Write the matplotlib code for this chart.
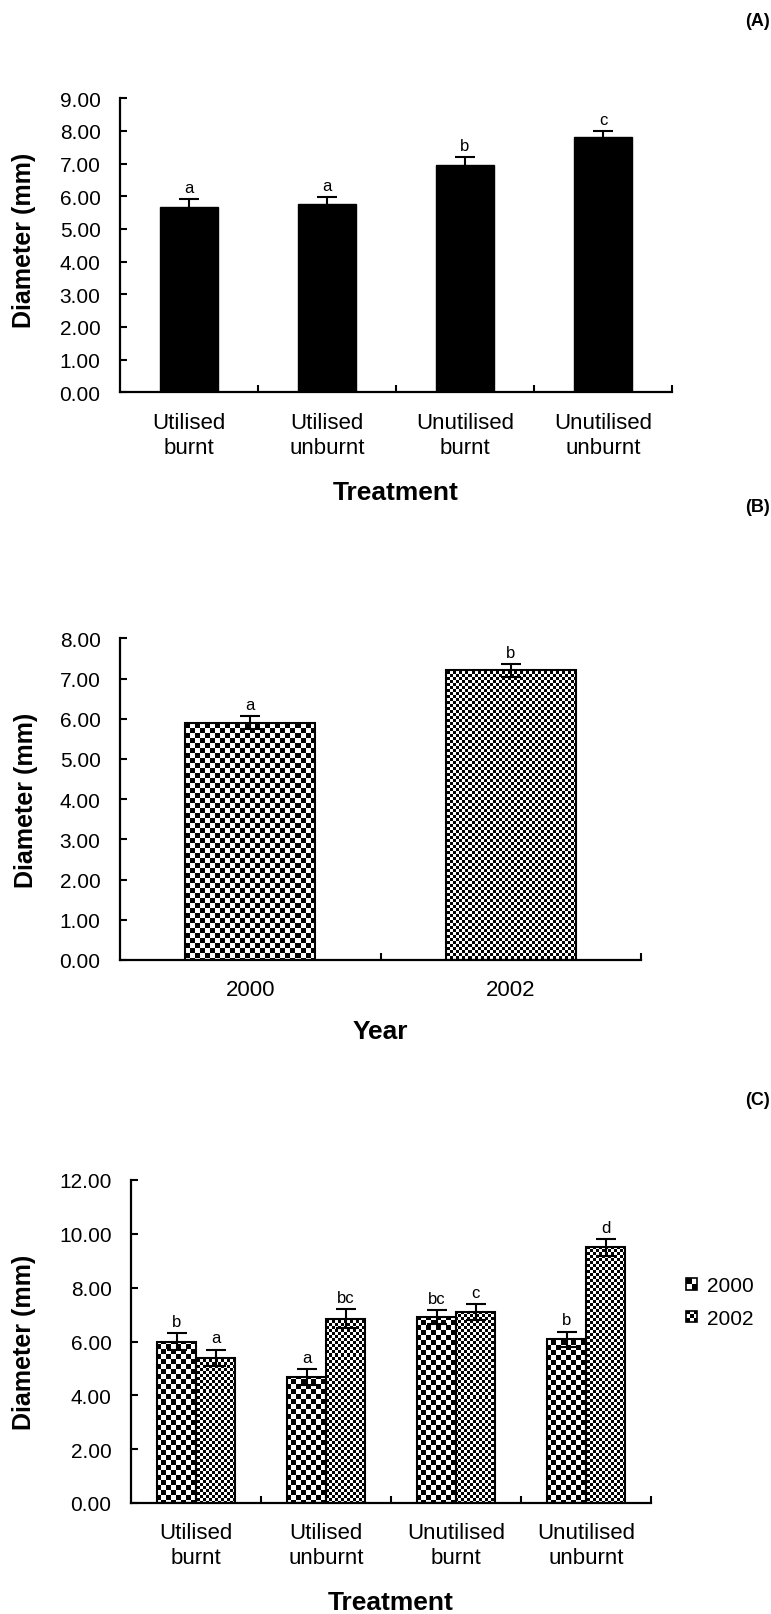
import numpy as np
import matplotlib
matplotlib.use("Agg")
import matplotlib.pyplot as plt
from matplotlib.legend_handler import HandlerBase
from matplotlib.patches import Rectangle, Patch

plt.rcParams['font.family'] = ['Liberation Sans', 'DejaVu Sans']

# data
treatments = ['Utilised\nburnt', 'Utilised\nunburnt', 'Unutilised\nburnt', 'Unutilised\nunburnt']
a_means = [5.68, 5.77, 6.97, 7.81]
a_errs = [0.24, 0.20, 0.23, 0.19]
a_letters = ['a', 'a', 'b', 'c']

years = ['2000', '2002']
b_means = [5.90, 7.20]
b_errs = [0.16, 0.15]
b_letters = ['a', 'b']

c_2000 = [5.99, 4.69, 6.91, 6.08]
c_2000_err = [0.31, 0.29, 0.25, 0.29]
c_2000_letters = ['b', 'a', 'bc', 'b']
c_2002 = [5.40, 6.85, 7.10, 9.50]
c_2002_err = [0.30, 0.36, 0.29, 0.31]
c_2002_letters = ['a', 'bc', 'c', 'd']

W, H = 771, 1615
fig = plt.figure(figsize=(W / 100, H / 100), dpi=100)


def ax_at(left, right, top, bottom):
    # pixel box -> figure fraction
    return fig.add_axes([left / W, 1 - bottom / H, (right - left) / W, (bottom - top) / H])


def style(ax, n, ymax, ystep, labels):
    ax.set_xlim(-0.5, n - 0.5)
    ax.set_ylim(0, ymax)
    ax.set_yticks(np.arange(0, ymax + 0.01, ystep))
    ax.set_yticklabels(['%.2f' % v for v in np.arange(0, ymax + 0.01, ystep)])
    ax.set_xticks(np.arange(n))
    ax.set_xticklabels(labels, linespacing=1.25)
    ax.set_xticks(np.arange(0.5, n), minor=True)
    ax.tick_params(axis='x', which='major', length=0, pad=14, labelsize=16)
    ax.tick_params(axis='x', which='minor', direction='in', length=5, width=1.5)
    ax.tick_params(axis='y', direction='in', length=5, width=1.5, pad=14, labelsize=15)
    for s in ['top', 'right']:
        ax.spines[s].set_visible(False)
    for s in ['left', 'bottom']:
        ax.spines[s].set_linewidth(1.6)
    ax.set_ylabel('Diameter (mm)', fontsize=18, fontweight='bold', va='center')


def checker(ax, bars, sq):
    bb = ax.get_window_extent()
    w, h = bb.width, bb.height
    nx, ny = int(w / sq) + 1, int(h / sq) + 1
    arr = np.indices((ny, nx)).sum(0) % 2
    xl, yl = ax.get_xlim(), ax.get_ylim()
    for b in bars:
        im = ax.imshow(arr, cmap='gray', vmin=0, vmax=1, interpolation='nearest',
                       origin='upper', aspect='auto', transform=ax.transAxes,
                       extent=(0, nx * sq / w, 1 - ny * sq / h, 1), zorder=2)
        im.set_clip_path(b)
    ax.set_xlim(xl)
    ax.set_ylim(yl)


def letters(ax, xs, tops, labs):
    for x, t, l in zip(xs, tops, labs):
        ax.annotate(l, (x, t), xytext=(0, 3), textcoords='offset points',
                    ha='center', va='bottom', fontsize=12)


# (A)
axA = ax_at(120, 672, 99.3, 393.3)
style(axA, 4, 9, 1, treatments)
xA = np.arange(4)
axA.bar(xA, a_means, 0.42, color='black', edgecolor='black', zorder=3)
axA.errorbar(xA, a_means, yerr=a_errs, fmt='none', ecolor='black', elinewidth=1.5,
             capsize=7, capthick=1.5, zorder=4)
letters(axA, xA, np.array(a_means) + np.array(a_errs), a_letters)
axA.set_xlabel('Treatment', fontsize=19, fontweight='bold', va='center')
axA.xaxis.set_label_coords(0.5, -100 / 294)
axA.yaxis.set_label_coords(-96 / 552, 0.52)

# (B)
axB = ax_at(120, 641, 639.3, 961)
style(axB, 2, 8, 1, years)
xB = np.arange(2)
barsB = axB.bar(xB, b_means, 0.5, facecolor='none', edgecolor='black', linewidth=1.5, zorder=3)
checker(axB, [barsB[0]], 5)
checker(axB, [barsB[1]], 3)
axB.errorbar(xB, b_means, yerr=b_errs, fmt='none', ecolor='black', elinewidth=1.5,
             capsize=7, capthick=1.5, zorder=4)
letters(axB, xB, np.array(b_means) + np.array(b_errs), b_letters)
axB.set_xlabel('Year', fontsize=19, fontweight='bold', va='center')
axB.xaxis.set_label_coords(0.5, -71 / 321.7)
axB.yaxis.set_label_coords(-94 / 521, 0.5)

# (C)
axC = ax_at(131, 651, 1181, 1504)
style(axC, 4, 12, 2, treatments)
xC = np.arange(4)
bw = 0.3
b0 = axC.bar(xC - bw / 2, c_2000, bw, facecolor='none', edgecolor='black', linewidth=1.5, zorder=3)
b2 = axC.bar(xC + bw / 2, c_2002, bw, facecolor='none', edgecolor='black', linewidth=1.5, zorder=3)
checker(axC, b0, 5)
checker(axC, b2, 3)
axC.errorbar(xC - bw / 2, c_2000, yerr=c_2000_err, fmt='none', ecolor='black',
             elinewidth=1.5, capsize=7, capthick=1.5, zorder=4)
axC.errorbar(xC + bw / 2, c_2002, yerr=c_2002_err, fmt='none', ecolor='black',
             elinewidth=1.5, capsize=7, capthick=1.5, zorder=4)
letters(axC, xC - bw / 2, np.array(c_2000) + np.array(c_2000_err), c_2000_letters)
letters(axC, xC + bw / 2, np.array(c_2002) + np.array(c_2002_err), c_2002_letters)
axC.set_xlabel('Treatment', fontsize=19, fontweight='bold', va='center')
axC.xaxis.set_label_coords(0.5, -99 / 323)
axC.yaxis.set_label_coords(-107 / 520, 0.5)


class CheckerHandler(HandlerBase):
    def __init__(self, n):
        super().__init__()
        self.n = n

    def create_artists(self, legend, orig_handle, xdescent, ydescent, width, height, fontsize, trans):
        s = min(width, height)
        x0, y0 = -xdescent, -ydescent + (height - s) / 2
        d = s / self.n
        arts = [Rectangle((x0, y0), s, s, facecolor='white', edgecolor='none', transform=trans)]
        for i in range(self.n):
            for j in range(self.n):
                if (i + j) % 2 == 0:
                    arts.append(Rectangle((x0 + j * d, y0 + s - (i + 1) * d), d, d,
                                          facecolor='black', edgecolor='none', transform=trans))
        arts.append(Rectangle((x0, y0), s, s, facecolor='none', edgecolor='black',
                              linewidth=1.2, transform=trans))
        return arts


h0 = Patch(label='2000')
h2 = Patch(label='2002')
fig.legend(handles=[h0, h2], handler_map={h0: CheckerHandler(2), h2: CheckerHandler(3)},
           loc='center left', bbox_to_anchor=(686 / W, 1 - 1303 / H), frameon=False,
           fontsize=15, handlelength=0.55, handleheight=0.55, handletextpad=0.45,
           labelspacing=0.65, borderpad=0, borderaxespad=0)

for lab, y in [('(A)', 22), ('(B)', 507), ('(C)', 1101)]:
    fig.text(757 / W, 1 - y / H, lab, ha='center', va='center', fontsize=13, fontweight='bold')

fig.savefig('out.png', dpi=100)
